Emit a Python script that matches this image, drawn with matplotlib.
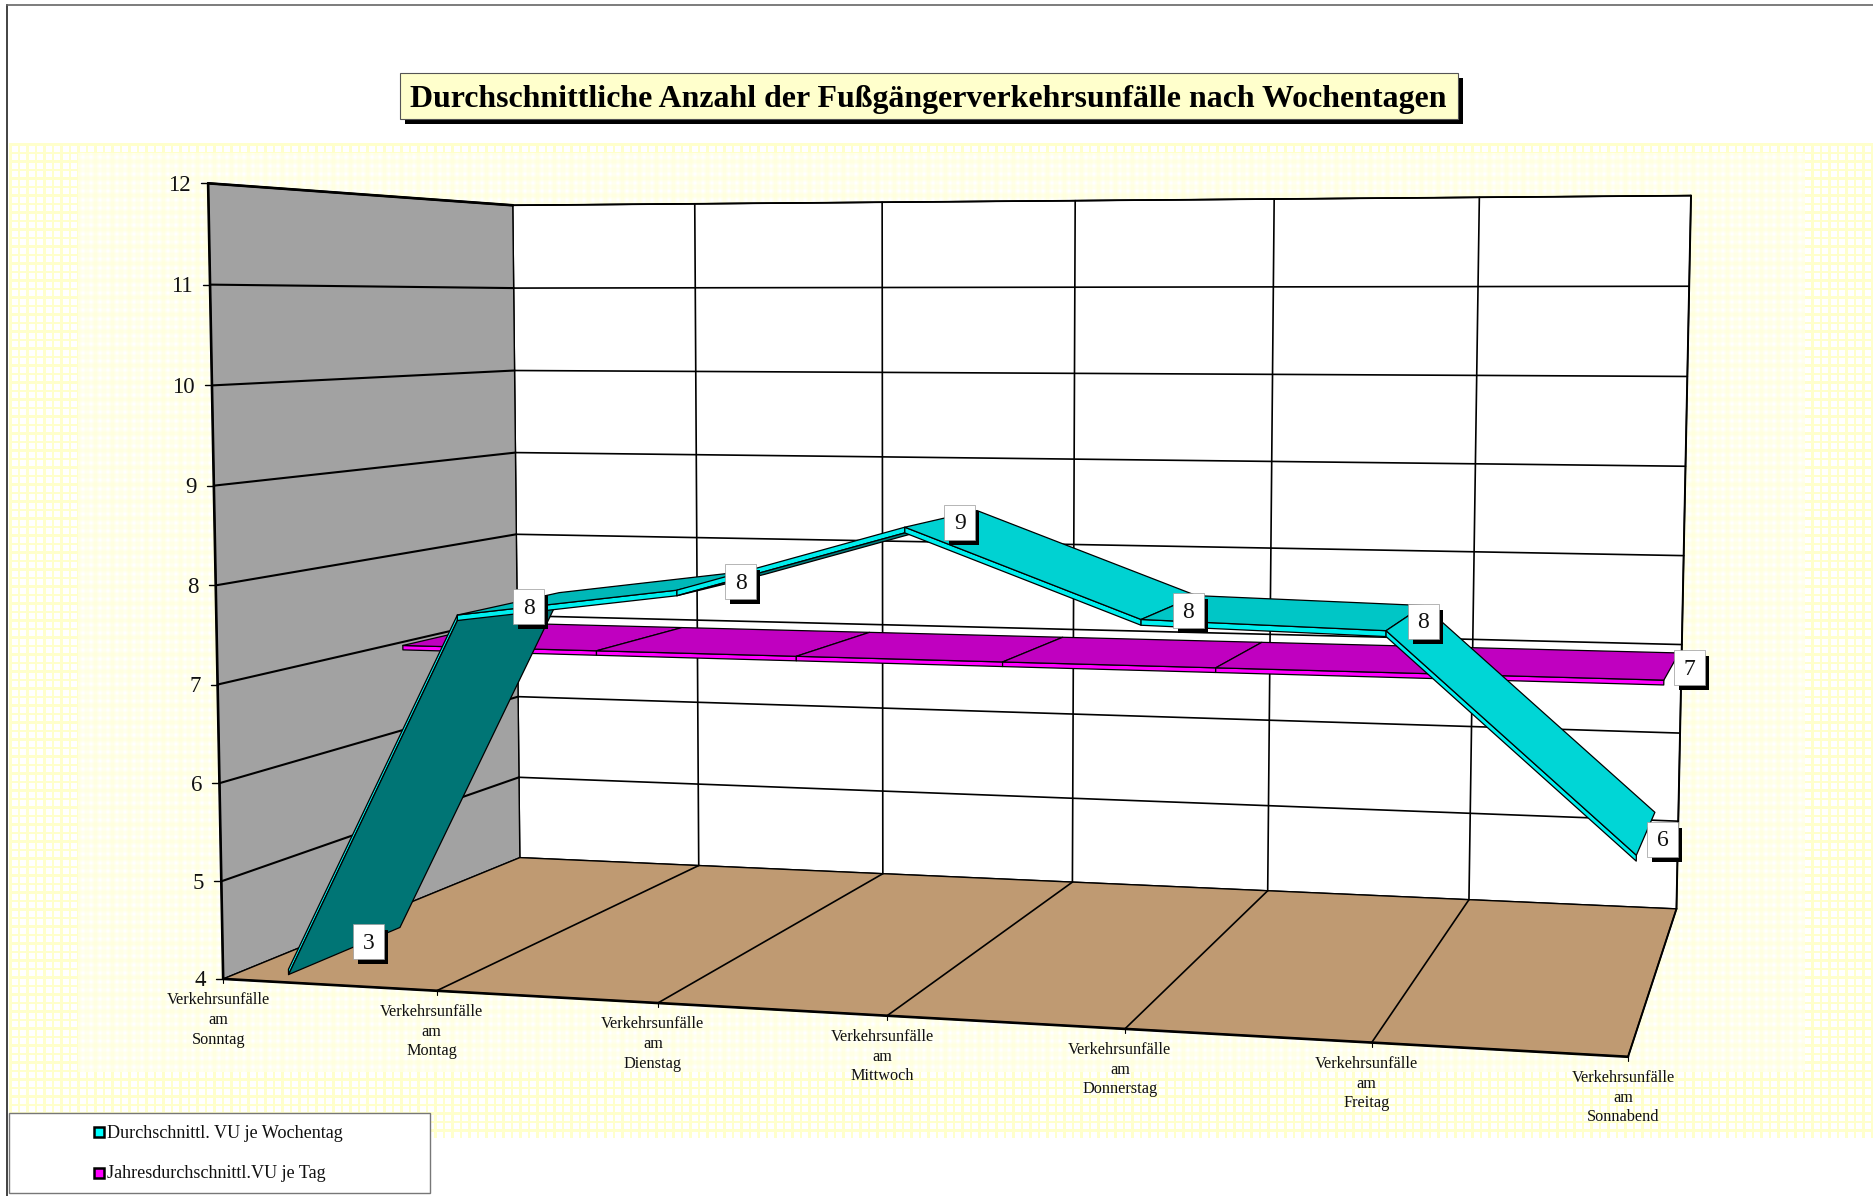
import matplotlib
matplotlib.use('Agg')
import matplotlib.pyplot as plt
import numpy as np
from matplotlib.patches import Polygon, Rectangle

plt.rcParams['font.family'] = ['Liberation Serif', 'DejaVu Serif']

# data
days = ['Sonntag', 'Montag', 'Dienstag', 'Mittwoch', 'Donnerstag', 'Freitag', 'Sonnabend']
cat_labels = ['Verkehrsunfälle\nam\n' + d for d in days]
vu_wochentag = [3.2, 7.7, 8.0, 8.66, 7.82, 7.77, 5.75]
vu_jahr = [6.96, 6.96, 6.96, 6.96, 6.96, 6.96, 6.96]
vu_wochentag_labels = ['3', '8', '8', '9', '8', '8', '6']
vu_jahr_label = '7'
y_ticks = [4, 5, 6, 7, 8, 9, 10, 11, 12]
legend_names = ['Durchschnittl. VU je Wochentag', 'Jahresdurchschnittl.VU je Tag']
title = 'Durchschnittliche Anzahl der Fußgängerverkehrsunfälle nach Wochentagen'

S = 1874 / 1568

# fit the perspective of the 3d box (category, value, depth) -> pixel
front_px = [(187, 818), (365, 829), (552, 840), (741, 851), (941, 861), (1148, 872), (1362, 884)]
back_px = [(435, 717), (584, 725), (740, 732), (896, 738), (1060, 745), (1230, 752), (1403, 760)]
top_px = [(429, 172), (582, 170), (738, 169), (899, 168), (1066, 167), (1238, 165), (1415, 164)]
world, pix = [], []
for k in range(7):
    world += [(k / 6, 0, 0), (k / 6, 0, 1), (k / 6, 1, 1)]
    pix += [front_px[k], back_px[k], top_px[k]]
world.append((0, 1, 0))
pix.append((174, 153))
rows = []
for (X, Y, Z), (u, v) in zip(world, pix):
    u, v = u * S / 1000, v * S / 1000
    rows.append([X, Y, Z, 1, 0, 0, 0, 0, -u * X, -u * Y, -u * Z, -u])
    rows.append([0, 0, 0, 0, X, Y, Z, 1, -v * X, -v * Y, -v * Z, -v])
P = np.linalg.svd(np.array(rows))[2][-1].reshape(3, 4)


def proj(cat, val, z):
    h = P @ np.array([cat / 6, (val - 4) / 8, z, 1.0])
    return h[0] / h[2] * 1000, h[1] / h[2] * 1000


fig = plt.figure(figsize=(18.74, 11.96), dpi=100)
ax = fig.add_axes([0, 0, 1, 1])

# patterned background: yellow lattice, blurred in the inner area
h, w = 1138 - 143, 1874 - 9
lx = (np.arange(w) % 8.5 < 2.5).astype(float)
ly = (np.arange(h) % 8.5 < 2.5).astype(float)
kernel = np.ones(5) / 5
lx_soft = np.convolve(lx, kernel, mode='same')
ly_soft = np.convolve(ly, kernel, mode='same')
cover = 1 - np.outer(1 - ly, 1 - lx)
cover_soft = 1 - np.outer(1 - ly_soft, 1 - lx_soft)
cover[10:929, 69:1796] = cover_soft[10:929, 69:1796] * 0.75
bg = np.ones((h, w, 3))
bg[:, :, 2] = 1 - 0.2 * cover
ax.imshow(bg, extent=(9, 1874, 1138, 143), aspect='auto', interpolation='nearest', zorder=0)
ax.set_xlim(0, 1874)
ax.set_ylim(1196, 0)
ax.axis('off')

ax.plot([7, 7], [5, 1196], color='#222222', lw=1.2, zorder=1)
ax.plot([7, 1874], [5, 5], color='#666666', lw=1.2, zorder=1)


def poly(points, fc, ec='black', lw=0.8, zorder=2):
    ax.add_patch(Polygon(points, closed=True, fc=fc, ec=ec, lw=lw, zorder=zorder, joinstyle='round'))


def line(a, b, lw=1.3, color='black', zorder=3):
    ax.plot([a[0], b[0]], [a[1], b[1]], color=color, lw=lw, zorder=zorder, solid_capstyle='round')


# walls and floor
poly([proj(0, 4, 1), proj(6, 4, 1), proj(6, 12, 1), proj(0, 12, 1)], 'white', lw=1.0)
poly([proj(0, 4, 0), proj(0, 4, 1), proj(0, 12, 1), proj(0, 12, 0)], '#a2a2a2', lw=1.0)
poly([proj(0, 4, 0), proj(6, 4, 0), proj(6, 4, 1), proj(0, 4, 1)], '#bf9a72', lw=1.0)

for t in y_ticks:
    if t > 4:
        line(proj(0, t, 0), proj(0, t, 1), lw=1.5)
        line(proj(0, t, 1), proj(6, t, 1), lw=1.2)
    fx, fy = proj(0, t, 0)
    line((fx - 7, fy), (fx, fy), lw=1.0)
    ax.text(fx - 17, fy + 2, str(t), ha='right', va='center', fontsize=16.5, color='#111111', zorder=4)
for k in range(7):
    if 0 < k < 6:
        line(proj(k, 4, 1), proj(k, 12, 1), lw=1.2)
        line(proj(k, 4, 0), proj(k, 4, 1), lw=1.2)
    fx, fy = proj(k, 4, 0)
    line((fx, fy), (fx, fy + 4), lw=0.8)
    ax.text(fx - 5, fy + 41, cat_labels[k], ha='center', va='center', fontsize=11.7,
            color='#111111', linespacing=1.3, zorder=4)
line(proj(0, 4, 0), proj(6, 4, 0), lw=1.9)
line(proj(0, 4, 0), proj(0, 12, 0), lw=1.9)
line(proj(0, 12, 0), proj(0, 12, 1), lw=1.9)
line(proj(6, 4, 0), proj(6, 4, 1), lw=1.4)
line(proj(6, 4, 1), proj(6, 12, 1), lw=1.4)
line(proj(0, 12, 1), proj(6, 12, 1), lw=1.0)


def ribbon(cats, vals, z0, z1, faces, under, edge, thick, zorder):
    # under: the ribbon is seen from below on that segment, so its face hangs under the edge strip
    for i in range(len(cats) - 1):
        c0, c1, a, b = cats[i], cats[i + 1], vals[i], vals[i + 1]
        d = thick if under[i] else 0
        poly([proj(c0, a, z0), proj(c1, b, z0), proj(c1, b - thick, z0), proj(c0, a - thick, z0)], edge, lw=0.9,
             zorder=zorder)
        poly([proj(c0, a - d, z0), proj(c1, b - d, z0), proj(c1, b - d, z1), proj(c0, a - d, z1)], faces[i], lw=0.9,
             zorder=zorder)


def value_label(xy, text):
    x, y = xy
    ax.add_patch(Rectangle((x - 12, y - 14), 30, 34, fc='black', ec='none', zorder=6))
    ax.add_patch(Rectangle((x - 17, y - 20), 31, 35, fc='white', ec='#999999', lw=0.5, zorder=7))
    ax.text(x - 1.5, y - 1, text, ha='center', va='center', fontsize=17, color='#111111', zorder=8)


# magenta series behind, cyan series in front
cats = list(range(7))
Z_J = (0.57, 0.93)
Z_W = (0.08, 0.43)
ribbon(cats, vu_jahr, Z_J[0], Z_J[1], ['#c000c0'] * 6, [False] * 6, '#ff00ff', 0.05, 5)

# first cyan segment starts below the axis, cut it at the floor
t = (4 - vu_wochentag[0]) / (vu_wochentag[1] - vu_wochentag[0])
cats_w = [t] + cats[1:]
vals_w = [4.0] + vu_wochentag[1:]
faces_w = ['#007575', '#00b8b8', '#007f7f', '#00d2d2', '#00c6c6', '#00d6d6']
under_w = [True, False, True, False, False, False]
ribbon(cats_w, vals_w, Z_W[0], Z_W[1], faces_w, under_w, '#00eeee', 0.055, 5.5)

zmid_w = sum(Z_W) / 2
label_dx = [24, 20, 20, 19, 20, 19, 18]
label_dy = [-1, 6, 5, 6, 6, 6, 9]
for c, v, s, dx, dy in zip(cats_w, vals_w, vu_wochentag_labels, label_dx, label_dy):
    x, y = proj(c, v, zmid_w)
    value_label((x + dx, y + dy), s)
x, y = proj(6, vu_jahr[-1], sum(Z_J) / 2)
value_label((x + 19, y + 4), vu_jahr_label)

# title box
tx0, ty0, tx1, ty1 = 400, 73, 1458, 119
ax.add_patch(Rectangle((tx0 + 5, ty0 + 5), tx1 - tx0, ty1 - ty0, fc='black', ec='none', zorder=6))
ax.add_patch(Rectangle((tx0, ty0), tx1 - tx0, ty1 - ty0, fc='#ffffcc', ec='#555555', lw=0.8, zorder=7))
ax.text((tx0 + tx1) / 2 - 1, (ty0 + ty1) / 2 + 4, title, ha='center', va='center', fontsize=22.95,
        fontweight='bold', color='black', zorder=8)

# legend box
ax.add_patch(Rectangle((9, 1113), 421, 80, fc='white', ec='#777777', lw=1.0, zorder=6))
for name, col, yc in zip(legend_names, ['#00ffff', '#ff00ff'], [1132, 1173]):
    ax.add_patch(Rectangle((94, yc - 5), 10, 10, fc=col, ec='black', lw=1.8, zorder=7))
    ax.text(107, yc + 1, name, ha='left', va='center', fontsize=13.05, color='#111111', zorder=8)

fig.savefig('out.png', dpi=100)
